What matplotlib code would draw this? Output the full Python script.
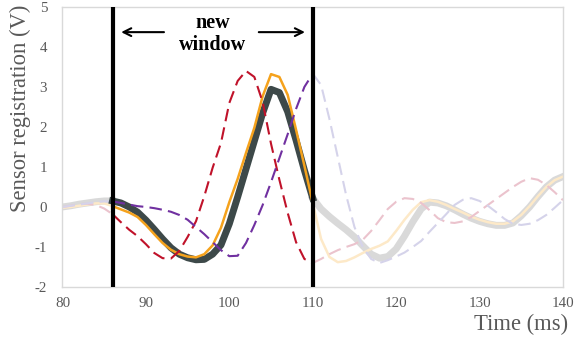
import matplotlib
matplotlib.use("Agg")
import matplotlib.pyplot as plt
import numpy as np

# sample times (ms)
time_ms = np.array(list(range(80, 141)))

# sensor readings (V), one value per ms
sensor_gray = [0.00, 0.03, 0.07, 0.10, 0.13, 0.15, 0.15, 0.10, 0.00, -0.13,
               -0.33, -0.56, -0.80, -1.02, -1.18, -1.27, -1.32, -1.31, -1.18, -0.95,
               -0.42, 0.25, 0.95, 1.65, 2.35, 2.94, 2.86, 2.38, 1.67, 0.92,
               0.22, -0.05, -0.24, -0.41, -0.57, -0.75, -0.97, -1.18, -1.28, -1.24,
               -1.05, -0.73, -0.37, -0.05, 0.12, 0.10, 0.03, -0.07, -0.18, -0.28,
               -0.36, -0.42, -0.46, -0.46, -0.40, -0.22, 0.00, 0.26, 0.50, 0.67,
               0.76]
sensor_orange = [-0.02, 0.00, 0.03, 0.06, 0.09, 0.09, 0.02, -0.06, -0.14, -0.25,
                 -0.45, -0.68, -0.90, -1.07, -1.18, -1.24, -1.26, -1.18, -0.96, -0.52,
                 0.12, 0.70, 1.35, 1.98, 2.77, 3.32, 3.25, 2.80, 1.93, 1.03,
                 0.10, -0.80, -1.25, -1.38, -1.35, -1.26, -1.15, -1.05, -0.97, -0.86,
                 -0.60, -0.32, -0.07, 0.12, 0.17, 0.13, 0.05, -0.05, -0.14, -0.24,
                 -0.32, -0.38, -0.42, -0.42, -0.36, -0.20, 0.02, 0.27, 0.50, 0.67,
                 0.76]
sensor_red = [0.00, 0.03, 0.07, 0.08, 0.05, -0.04, -0.18, -0.38, -0.57, -0.73,
              -0.93, -1.15, -1.28, -1.29, -1.10, -0.75, -0.36, 0.27, 0.98, 1.60,
              2.60, 3.15, 3.40, 3.25, 2.62, 1.58, 0.68, -0.15, -0.88, -1.30,
              -1.40, -1.30, -1.18, -1.08, -1.00, -0.93, -0.82, -0.60, -0.33, -0.05,
              0.13, 0.22, 0.20, 0.10, -0.08, -0.28, -0.38, -0.40, -0.36, -0.25,
              -0.10, 0.05, 0.20, 0.35, 0.50, 0.63, 0.72, 0.68, 0.55, 0.37,
              0.17]
sensor_purple = [0.00, 0.03, 0.06, 0.09, 0.12, 0.14, 0.14, 0.10, 0.06, 0.02,
                 0.00, -0.03, -0.07, -0.12, -0.20, -0.32, -0.50, -0.68, -0.88, -1.08,
                 -1.23, -1.22, -0.90, -0.45, 0.05, 0.62, 1.22, 1.82, 2.45, 3.00,
                 3.33, 3.05, 2.20, 1.25, 0.30, -0.50, -1.00, -1.30, -1.40, -1.33,
                 -1.24, -1.14, -1.00, -0.85, -0.62, -0.40, -0.18, 0.05, 0.18, 0.22,
                 0.15, 0.03, -0.13, -0.30, -0.42, -0.45, -0.42, -0.33, -0.20, -0.02,
                 0.17]

window_start = 86
window_end = 110

# (values, colour inside window, faded colour, width, dashed)
series = [
    (sensor_gray, '#3d4949', '#d9d9d9', 5.0, False),
    (sensor_orange, '#f5a21c', '#fde9c8', 1.8, False),
    (sensor_red, '#c0122a', '#ebc3cd', 1.5, True),
    (sensor_purple, '#7030a0', '#d5d3ea', 1.5, True),
]

plt.rcParams['font.family'] = ['Liberation Serif', 'DejaVu Serif']
plt.rcParams['axes.unicode_minus'] = False

fig = plt.figure(figsize=(5.77, 3.47), dpi=100)
ax = fig.add_axes([0.1083, 0.173, 0.8674, 0.807])

pre = time_ms <= window_start
win = (time_ms >= window_start) & (time_ms <= window_end)
post = time_ms >= window_end

for i, (vals, col, faded, lw, dashed) in enumerate(series):
    vals = np.array(vals)
    ls = (0, (6, 3)) if dashed else '-'
    for mask in (pre, post):
        ax.plot(time_ms[mask], vals[mask], color=faded, lw=lw, linestyle=ls,
                solid_joinstyle='round', dash_joinstyle='round', zorder=1 + i * 0.1)
    ax.plot(time_ms[win], vals[win], color=col, lw=lw, linestyle=ls,
            solid_joinstyle='round', dash_joinstyle='round', zorder=3 + i)

ax.axvline(window_start, color='black', lw=3, zorder=10)
ax.axvline(window_end, color='black', lw=3, zorder=10)

# window annotation
ax.annotate('', xy=(86.7, 4.37), xytext=(92.5, 4.37),
            arrowprops=dict(arrowstyle='->', color='black', lw=1.5, mutation_scale=14))
ax.annotate('', xy=(109.4, 4.37), xytext=(103.2, 4.37),
            arrowprops=dict(arrowstyle='->', color='black', lw=1.5, mutation_scale=14))
ax.text(97.95, 4.32, 'new\nwindow', ha='center', va='center', fontsize=14.5,
        fontweight='bold', color='black', linespacing=1.15)

ax.set_xlim(80, 140)
ax.set_ylim(-2, 5)
ax.set_xticks(range(80, 141, 10))
ax.set_yticks(range(-2, 6))
ax.tick_params(axis='both', length=0, labelsize=10.8, labelcolor='#595959')
ax.tick_params(axis='x', pad=7)
ax.tick_params(axis='y', pad=11)
for sp in ax.spines.values():
    sp.set_color('#d9d9d9')
    sp.set_linewidth(1.0)

fig.text(20 / 577, 1 - 108 / 347, 'Sensor registration (V)', rotation=90,
         ha='center', va='center', fontsize=16.3, color='#595959')
fig.text(568 / 577, 1 - 324 / 347, 'Time (ms)', ha='right', va='center',
         fontsize=16.3, color='#595959')

fig.savefig('out.png', dpi=100)
